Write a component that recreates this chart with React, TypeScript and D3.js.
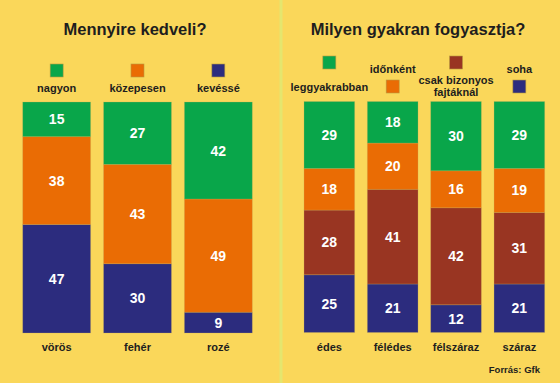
import React from "react";
import * as d3 from "d3";

const wineTypesLeft = ["vörös", "fehér", "rozé"];
const likeKeys = ["kevéssé", "közepesen", "nagyon"]; // bottom to top
const likeLegendOrder = ["nagyon", "közepesen", "kevéssé"];
const likeNagyon = [15, 27, 42];
const likeKozepesen = [38, 43, 49];
const likeKevesse = [47, 30, 9];

const wineTypesRight = ["édes", "félédes", "félszáraz", "száraz"];
const freqKeys = ["soha", "csak bizonyos fajtáknál", "időnként", "leggyakrabban"]; // bottom to top
const freqLegendOrder = ["leggyakrabban", "időnként", "csak bizonyos fajtáknál", "soha"];
const freqLeggyakrabban = [29, 18, 30, 29];
const freqIdonkent = [18, 20, 16, 19];
const freqCsak = [28, 41, 42, 31];
const freqSoha = [25, 21, 12, 21];

const titleLeft = "Mennyire kedveli?";
const titleRight = "Milyen gyakran fogyasztja?";
const sourceText = "Forrás: Gfk";

const COLORS: Record<string, string> = {
  nagyon: "#09A64A",
  közepesen: "#EA6C04",
  kevéssé: "#2C2C7E",
  leggyakrabban: "#09A64A",
  időnként: "#EA6C04",
  "csak bizonyos fajtáknál": "#993522",
  soha: "#2C2C7E",
};

const FONT = "Liberation Sans, Arial, Helvetica, sans-serif";
const BG = "#FAD75A";
const TEXT = "#1E1E1E";

function buildRows(cats: string[], keys: string[], series: number[][]) {
  return cats.map((c, i) => {
    const row: any = { cat: c };
    keys.forEach((k, j) => (row[k] = series[j][i]));
    return row;
  });
}

const leftRows = buildRows(wineTypesLeft, likeKeys, [likeKevesse, likeKozepesen, likeNagyon]);
const rightRows = buildRows(wineTypesRight, freqKeys, [freqSoha, freqCsak, freqIdonkent, freqLeggyakrabban]);

function StackPanel({
  rows,
  keys,
  cats,
  x0,
  x1,
  pad,
  yTop,
  yBot,
}: {
  rows: any[];
  keys: string[];
  cats: string[];
  x0: number;
  x1: number;
  pad: number;
  yTop: number;
  yBot: number;
}) {
  const x = d3.scaleBand<string>().domain(cats).range([x0, x1]).paddingInner(pad).paddingOuter(0);
  const y = d3.scaleLinear().domain([0, 100]).range([yBot, yTop]);
  const stacked = d3.stack<any>().keys(keys)(rows);
  return (
    <g>
      {stacked.map((layer) => (
        <g key={layer.key}>
          {layer.map((d, i) => {
            const cat = rows[i].cat;
            const v = d[1] - d[0];
            const top = y(d[1]);
            const bot = y(d[0]);
            return (
              <g key={cat}>
                <rect
                  x={x(cat)}
                  y={top}
                  width={x.bandwidth()}
                  height={bot - top}
                  fill={COLORS[layer.key]}
                  stroke="#C9B060"
                  strokeOpacity={0.35}
                  strokeWidth={0.8}
                />
                <text
                  x={(x(cat) as number) + x.bandwidth() / 2}
                  y={(top + bot) / 2 + 5}
                  textAnchor="middle"
                  fill="#FFFFFF"
                  fontFamily={FONT}
                  fontWeight="bold"
                  fontSize={14}
                >
                  {v}
                </text>
              </g>
            );
          })}
        </g>
      ))}
      {cats.map((c) => (
        <text
          key={c}
          x={(x(c) as number) + x.bandwidth() / 2}
          y={yBot + 18}
          textAnchor="middle"
          fill={TEXT}
          fontFamily={FONT}
          fontWeight="bold"
          fontSize={11}
        >
          {c}
        </text>
      ))}
    </g>
  );
}

export default function App() {
  const leftX = d3.scaleBand<string>().domain(wineTypesLeft).range([22.7, 252.3]).paddingInner(0.16);
  const rightX = d3.scaleBand<string>().domain(wineTypesRight).range([304, 544.7]).paddingInner(0.2);
  const sq = 13;

  const rightLegendLayout = [
    { sqY: 56, labelY: [87] },
    { sqY: 80, labelY: [69] },
    { sqY: 56, labelY: [80, 92] },
    { sqY: 80, labelY: [69] },
  ];
  const splitLabel = (s: string) =>
    s === "csak bizonyos fajtáknál" ? ["csak bizonyos", "fajtáknál"] : [s];

  return (
    <svg
      width={560}
      height={383}
      style={{ position: "absolute", left: 0, top: 0, display: "block" }}
    >
      <rect x={0} y={0} width={560} height={383} fill={BG} />
      <rect x={279.5} y={0} width={3} height={383} fill="#E4E66E" />

      <text x={135} y={35} textAnchor="middle" fill={TEXT} fontFamily={FONT} fontWeight="bold" fontSize={16.5}>
        {titleLeft}
      </text>
      <text x={418} y={35} textAnchor="middle" fill={TEXT} fontFamily={FONT} fontWeight="bold" fontSize={16.5}>
        {titleRight}
      </text>

      {likeLegendOrder.map((k, i) => {
        const cx = (leftX(wineTypesLeft[i]) as number) + leftX.bandwidth() / 2;
        return (
          <g key={k}>
            <rect x={cx - sq / 2} y={64} width={sq} height={sq} fill={COLORS[k]} stroke="#B89A40" strokeWidth={0.6} />
            <text x={cx} y={92} textAnchor="middle" fill={TEXT} fontFamily={FONT} fontWeight="bold" fontSize={11}>
              {k}
            </text>
          </g>
        );
      })}

      {freqLegendOrder.map((k, i) => {
        const cx = (rightX(wineTypesRight[i]) as number) + rightX.bandwidth() / 2;
        const lay = rightLegendLayout[i];
        const lines = splitLabel(k);
        return (
          <g key={k}>
            <rect x={cx - sq / 2} y={lay.sqY} width={sq} height={sq} fill={COLORS[k]} stroke="#B89A40" strokeWidth={0.6} />
            {lines.map((ln, j) => (
              <text
                key={ln}
                x={cx}
                y={lay.labelY[j] + 4}
                textAnchor="middle"
                fill={TEXT}
                fontFamily={FONT}
                fontWeight="bold"
                fontSize={11}
              >
                {ln}
              </text>
            ))}
          </g>
        );
      })}

      <StackPanel rows={leftRows} keys={likeKeys} cats={wineTypesLeft} x0={22.7} x1={252.3} pad={0.16} yTop={102} yBot={333} />
      <StackPanel rows={rightRows} keys={freqKeys} cats={wineTypesRight} x0={304} x1={544.7} pad={0.2} yTop={101.5} yBot={332.5} />

      <text x={540} y={373} textAnchor="end" fill={TEXT} fontFamily={FONT} fontWeight="bold" fontSize={9.5}>
        {sourceText}
      </text>
    </svg>
  );
}
